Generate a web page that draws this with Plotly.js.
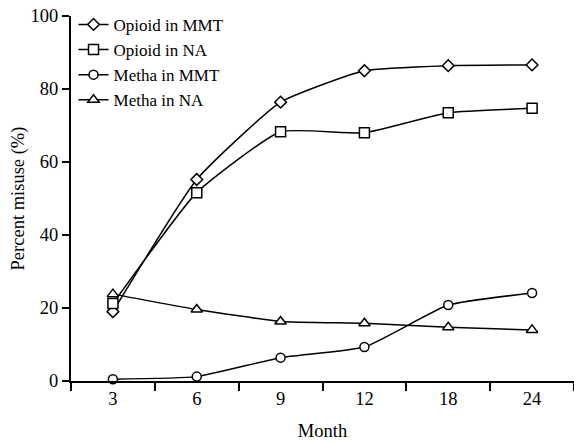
<!DOCTYPE html>
<html>
<head>
<meta charset="utf-8">
<script src="https://cdn.plot.ly/plotly-3.0.1.min.js"></script>
<style>html,body{margin:0;padding:0;background:#fff;}#chart{width:574px;height:443px;}</style>
</head>
<body>
<div id="chart"></div>
<script>
const months = ["3", "6", "9", "12", "18", "24"];
const opioidMMT = [19.0, 55.2, 76.4, 85.0, 86.4, 86.6];
const opioidNA = [21.2, 51.6, 68.3, 68.0, 73.5, 74.7];
const methaMMT = [0.5, 1.2, 6.4, 9.3, 20.8, 24.1];
const methaNA = [23.8, 19.6, 16.3, 15.8, 14.7, 14.0];
const seriesNames = ["Opioid in MMT", "Opioid in NA", "Metha in MMT", "Metha in NA"];
const symbols = ["diamond", "square", "circle", "triangle-up"];
const sizes = [9, 10, 9, 10];

const allSeries = [opioidMMT, opioidNA, methaMMT, methaNA];
const traces = allSeries.map((ys, i) => ({
  type: "scatter",
  mode: "lines+markers",
  name: seriesNames[i],
  x: months,
  y: ys,
  line: {color: "#000", width: 1.5, shape: "spline", smoothing: 0.45},
  marker: {symbol: symbols[i], size: sizes[i], color: "#fff", line: {color: "#000", width: 1.5}},
  cliponaxis: false
}));

const font = {family: "Liberation Serif", size: 18.5, color: "#000"};
const legendFont = {family: "Liberation Serif", size: 17, color: "#000"};
const layout = {
  width: 574, height: 443,
  margin: {l: 71, r: 0, t: 16, b: 62},
  paper_bgcolor: "#fff", plot_bgcolor: "#fff",
  font: font,
  showlegend: true,
  legend: {x: 0.005, y: 1.025, xanchor: "left", yanchor: "top", bgcolor: "rgba(0,0,0,0)", font: legendFont, tracegroupgap: 0, itemwidth: 30},
  xaxis: {
    type: "category",
    range: [-0.5, 5.5],
    showgrid: false, zeroline: false,
    showline: true, linecolor: "#000", linewidth: 2,
    ticks: "outside", ticklen: 8, tickwidth: 2, tickcolor: "#000",
    tickson: "boundaries",
    title: {text: "Month", font: font, standoff: 16},
    tickfont: font
  },
  yaxis: {
    range: [0, 100],
    tickvals: [0, 20, 40, 60, 80, 100],
    showgrid: false, zeroline: false,
    showline: true, linecolor: "#000", linewidth: 2,
    ticks: "outside", ticklen: 7, tickwidth: 2, tickcolor: "#000",
    title: {text: "Percent misuse (%)", font: font, standoff: 1},
    tickfont: font
  }
};
Plotly.newPlot("chart", traces, layout, {displayModeBar: false, staticPlot: true});
</script>
</body>
</html>
